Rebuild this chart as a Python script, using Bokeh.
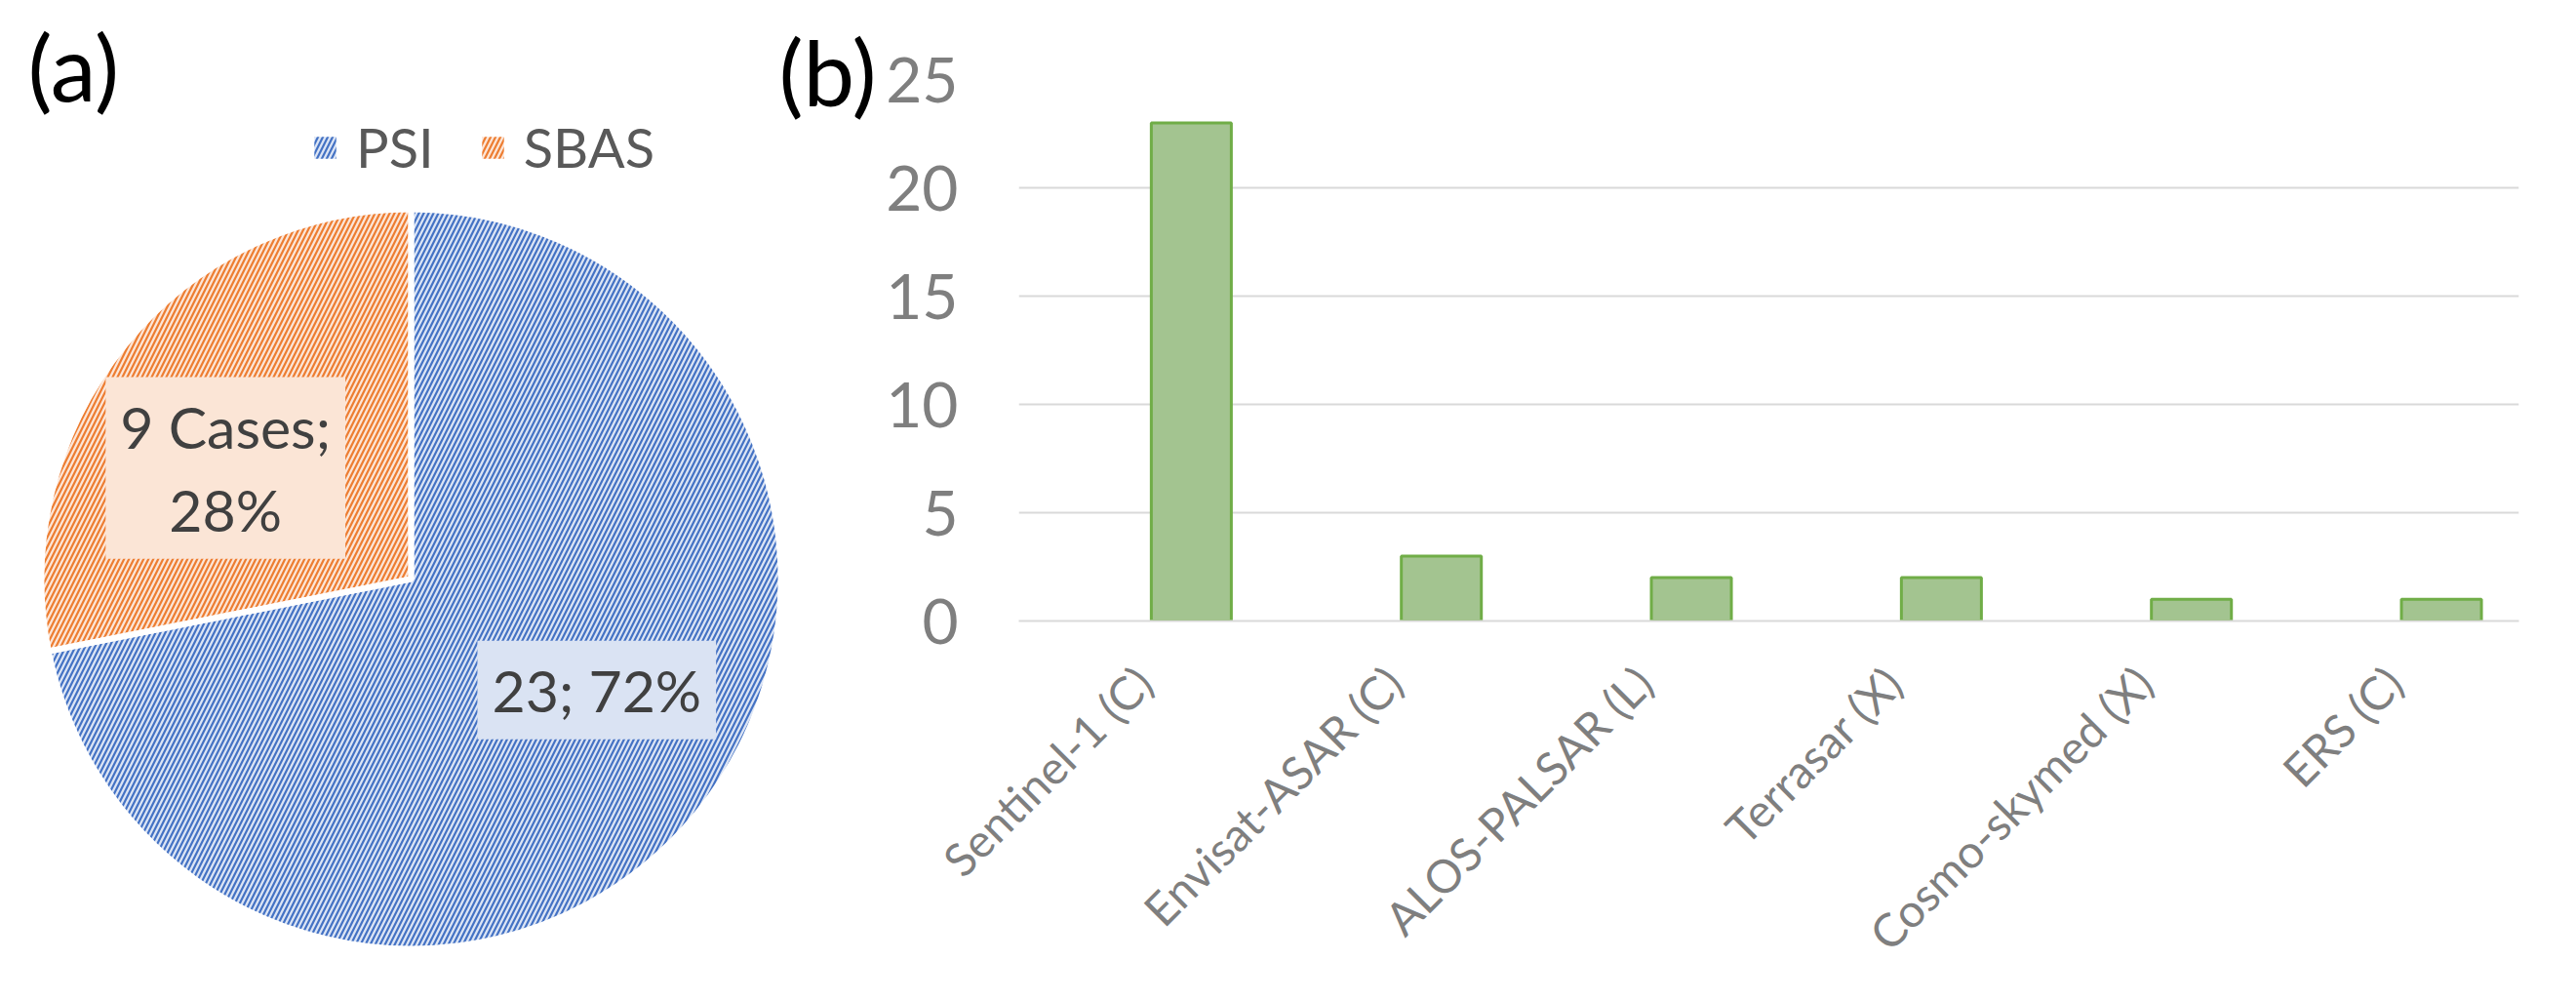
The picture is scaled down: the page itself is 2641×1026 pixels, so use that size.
import math
from bokeh.plotting import figure
from bokeh.layouts import row
from bokeh.models import (ColumnDataSource, Range1d, FactorRange, FixedTicker,
                          Legend, LegendItem, Label)
from bokeh.transform import dodge
from bokeh.core.properties import value
from bokeh.embed import file_html
from bokeh.resources import INLINE

# ---------------- data ----------------
methods = ["PSI", "SBAS"]
method_cases = [23, 9]
label_formats = ["{n}; {p}%", "{n} Cases;\n{p}%"]
method_colors = ["#4472C4", "#ED7D31"]
method_tints = ["#DCE5F5", "#FCE6D8"]
label_box_colors = ["#DAE3F3", "#FBE5D6"]

satellites = ["Sentinel-1 (C)", "Envisat-ASAR (C)", "ALOS-PALSAR (L)",
              "Terrasar (X)", "Cosmo-skymed (X)", "ERS (C)"]
sat_counts = [23, 3, 2, 2, 1, 1]
y_ticks = [0, 5, 10, 15, 20, 25]

FONT = "Lato"

# ---------------- (a) pie ----------------
W1, H1 = 900, 1010
CX, CY, R = 421, 417, 379

p1 = figure(width=W1, height=H1, x_range=Range1d(0, W1), y_range=Range1d(0, H1),
            output_backend="svg", toolbar_location=None, min_border=0,
            x_axis_location=None, y_axis_location=None, outline_line_color=None)
p1.grid.visible = False
p1.frame_align = False

total = sum(method_cases)
starts, ends, lx, ly, texts = [], [], [], [], []
cum = 0.0
for n, fmt in zip(method_cases, label_formats):
    a0 = 90.0 - 360.0 * cum
    cum += n / total
    a1 = 90.0 - 360.0 * cum
    starts.append(math.radians(a1))
    ends.append(math.radians(a0))
    mid = math.radians((a0 + a1) / 2 + 8.5)
    lx.append(CX + 0.585 * R * math.cos(mid))
    ly.append(CY + 0.585 * R * math.sin(mid))
    texts.append(fmt.format(n=n, p=round(100 * n / total)))

pie_src = ColumnDataSource(dict(method=methods, cases=method_cases, start=starts, end=ends,
                                color=method_colors, tint=method_tints,
                                lx=lx, ly=ly, text=texts, box=label_box_colors))

# hatched slices (also used as legend swatches)
slices = p1.wedge(x=CX, y=CY, radius=R, start_angle="start", end_angle="end",
                  source=pie_src, fill_color="tint", hatch_pattern="/",
                  hatch_color="color", hatch_scale=10, hatch_weight=2.2,
                  line_color=None)
# white separators between slices
p1.wedge(x=CX, y=CY, radius=R, start_angle="start", end_angle="end",
         source=pie_src, fill_color=None, line_color="white", line_width=6)

p1.text(x="lx", y="ly", text="text", source=pie_src, text_font=value(FONT),
        text_font_size="59px", text_color="#404040", text_align="center",
        text_baseline="middle", text_line_height=1.2,
        background_fill_color="box", padding=15)

legend = Legend(items=[LegendItem(label=m, renderers=[slices], index=i)
                       for i, m in enumerate(methods)],
                orientation="horizontal", location=(319, 826),
                glyph_width=28, glyph_height=28,
                label_text_font=FONT, label_text_font_size="56px",
                label_text_color="#595959", label_standoff=18, spacing=46,
                padding=0, margin=0, border_line_color=None,
                background_fill_alpha=0)
p1.add_layout(legend)

p1.add_layout(Label(x=28, y=943, text="(a)", text_font=FONT, text_font_size="94px",
                    text_color="black", text_baseline="middle"))
p1.add_layout(Label(x=798, y=938, text="(b)", text_font=FONT, text_font_size="94px",
                    text_color="black", text_baseline="middle"))

# ---------------- (b) bars ----------------
W2, H2 = 1725, 1010
p2 = figure(width=W2, height=H2, x_range=FactorRange(*satellites, range_padding=0),
            y_range=Range1d(0, 25), output_backend="svg", toolbar_location=None,
            min_border_left=144, min_border_right=43, min_border_top=81,
            min_border_bottom=374, outline_line_color=None)
p2.frame_align = False

bar_src = ColumnDataSource(dict(sat=satellites, count=sat_counts))
p2.vbar(x=dodge("sat", 0.19, range=p2.x_range), top="count", width=0.32,
        source=bar_src, fill_color="#A3C490", line_color="#70AD47", line_width=3)

p2.xgrid.visible = False
p2.ygrid.ticker = FixedTicker(ticks=y_ticks)
p2.ygrid.grid_line_color = "#D9D9D9"
p2.ygrid.grid_line_width = 2

p2.yaxis.ticker = FixedTicker(ticks=y_ticks)
p2.yaxis.axis_line_color = None
p2.yaxis.major_tick_line_color = None
p2.yaxis.minor_tick_line_color = None
p2.yaxis.major_tick_out = 0
p2.yaxis.major_tick_in = 0
p2.yaxis.minor_tick_out = 0
p2.yaxis.major_label_text_font = FONT
p2.yaxis.major_label_text_font_size = "64px"
p2.yaxis.major_label_text_color = "#7F7F7F"
p2.yaxis.major_label_standoff = 62

p2.xaxis.axis_line_color = "#D9D9D9"
p2.xaxis.axis_line_width = 2
p2.xaxis.major_tick_line_color = None
p2.xaxis.minor_tick_line_color = None
p2.xaxis.major_tick_out = 0
p2.xaxis.major_tick_in = 0
p2.xaxis.minor_tick_out = 0
p2.xaxis.major_label_orientation = math.pi / 4
p2.xaxis.major_label_text_font = FONT
p2.xaxis.major_label_text_font_size = "47px"
p2.xaxis.major_label_text_color = "#7F7F7F"
p2.xaxis.major_label_standoff = 55

layout = row(p1, p2)
open("out.html", "w").write(file_html(layout, INLINE))
